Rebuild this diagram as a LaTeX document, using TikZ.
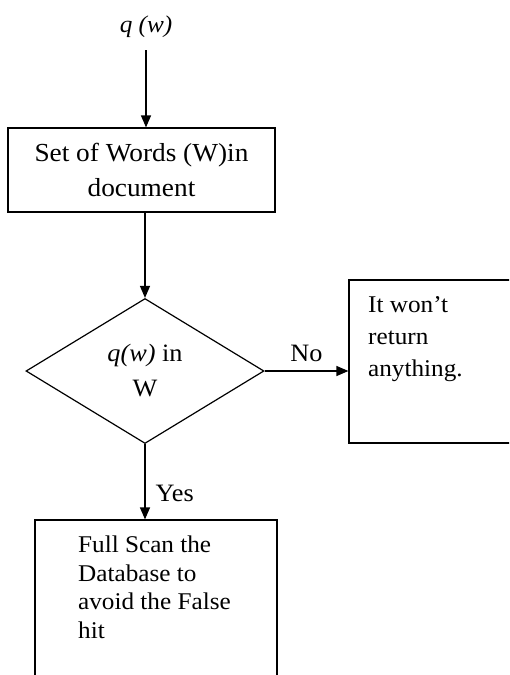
\documentclass[tikz,border=0pt]{standalone}
\usepackage{fontspec}
\setmainfont[FakeStretch=1.05]{Liberation Serif}
\usetikzlibrary{arrows.meta, positioning, shapes.geometric}

\begin{document}
\begin{tikzpicture}[x=1pt, y=1pt,
    box/.style={draw, line width=1.2pt, rectangle, inner sep=0pt},
    decision/.style={draw, line width=1.2pt, diamond, aspect=1.64, inner sep=0pt,
        minimum width=238pt, minimum height=145pt},
    flow/.style={line width=1.2pt, -{Triangle[length=12pt, width=10pt]}},
    txt/.style={inner sep=0pt, align=left}]
    % Canvas
    \useasboundingbox (0,0) rectangle (509,-675);
    \clip (0,0) rectangle (509,-675);

    % Query
    \node[inner sep=0pt, minimum height=46pt, font=\fontsize{24}{28}\selectfont\itshape] (query) at (146,-27) {q (w)};

    % Set of words
    \node[box, minimum width=267pt, minimum height=84pt, align=center,
        font=\fontsize{26}{35}\selectfont] (words) at (141.5,-170) {Set of Words (W)in\\document};

    % Decision
    \node[decision, align=center, font=\fontsize{25}{35}\selectfont] (test) at (145,-371) {\textit{q(w)} in\\W};

    % No branch (box runs off the right edge)
    \node[box, minimum width=170pt, minimum height=163pt] (none) at (434,-361.5) {};
    \node[txt, anchor=north west, font=\fontsize{24}{32}\selectfont] (nonetext) at (368,-296) {It won’t\\return\\anything.};

    % Yes branch (box runs off the bottom edge)
    \node[box, minimum width=242pt, minimum height=200pt] (scan) at (156,-620) {};
    \node[txt, anchor=north west, font=\fontsize{24}{28.5}\selectfont] (scantext) at (78,-536) {Full Scan the\\Database to\\avoid the False\\hit};

    % Connectors
    \draw[flow] (query.south) -- (query.south |- words.north);
    \draw[flow] (test.north |- words.south) -- (test.north);
    \draw[flow] (test.east) -- (test.east -| none.west)
        node[midway, above=9pt, inner sep=0pt, font=\fontsize{25}{28}\selectfont] (no) {No};
    \draw[flow] (test.south) -- (test.south |- scan.north)
        node[pos=0.65, right=10pt, inner sep=0pt, font=\fontsize{25}{28}\selectfont] (yes) {Yes};
\end{tikzpicture}
\end{document}
